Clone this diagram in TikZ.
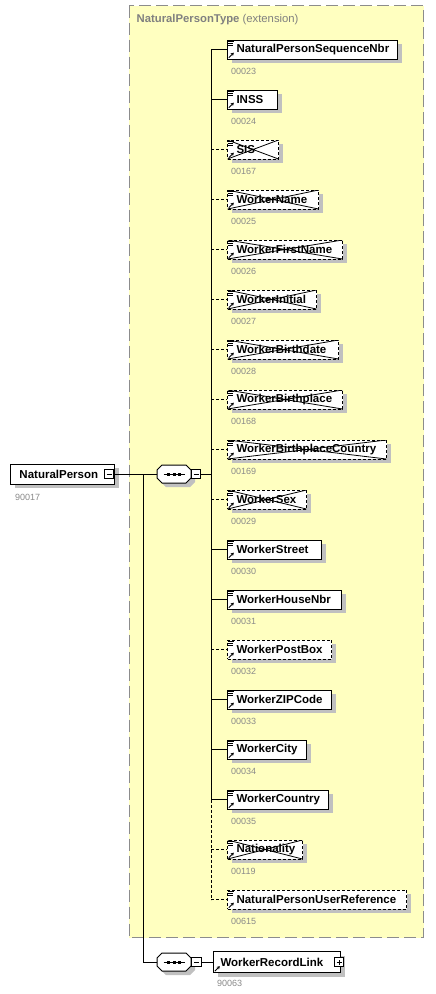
\documentclass[tikz,border=0pt]{standalone}
\usepackage{fontspec}
\setmainfont{Liberation Sans}
\usetikzlibrary{arrows.meta}
\definecolor{bgyellow}{HTML}{FFFFC0}
\definecolor{framegray}{HTML}{8C8C8C}
\definecolor{lblgray}{HTML}{8A8A8A}
\definecolor{titlegray}{HTML}{808080}
\definecolor{shgray}{HTML}{C0C0C0}
\newcommand{\elem}[7]{% id, row, right x, name, label, box style, connector style
  \pgfmathsetmacro{\yc}{49.5+50*#2}
  \pgfmathsetmacro{\ew}{#3-227}
  \node[#6, text width=\ew pt, anchor=west] (#1) at (227,\yc) {\hspace*{9pt}#4};
  \draw[icon] ([shift={(1pt,-1.6pt)}]#1.north west) -- ++(6pt,0pt);
  \draw[icon] ([shift={(1pt,-3.6pt)}]#1.north west) -- ++(4.5pt,0pt);
  \draw[icon] ([shift={(1pt,-5.6pt)}]#1.north west) -- ++(4.5pt,0pt);
  \draw[arr] ([shift={(1.8pt,1.8pt)}]#1.south west) -- ++(5pt,5pt);
  \node[lbl] (#1l) at (231,\yc+22) {#5};
  \coordinate (t#1) at (211,\yc);
  \draw[#7] (t#1) -- (#1.west);
}
\newcommand{\octa}[2]{%
  \filldraw[compo] (#1-17,#2-4) -- (#1-12,#2-9) -- (#1+12,#2-9) -- (#1+17,#2-4) -- (#1+17,#2+4) -- (#1+12,#2+9) -- (#1-12,#2+9) -- (#1-17,#2+4) -- cycle;
  \draw[line width=1pt] (#1-10.5,#2) -- (#1+10.5,#2);
  \fill (#1-7,#2-1.5) rectangle ++(3,3);
  \fill (#1-1.5,#2-1.5) rectangle ++(3,3);
  \fill (#1+4,#2-1.5) rectangle ++(3,3);
}
\begin{document}
\begin{tikzpicture}[x=1pt,y=-1pt,
  shadowed/.style={preaction={fill=shgray, draw=none, transform canvas={shift={(4pt,-4pt)}}}},
  ebox/.style={draw=black, line width=1pt, fill=white, inner xsep=0pt, inner ysep=0pt,
    minimum height=19pt, align=left, font=\bfseries\fontsize{11.5}{13}\selectfont, shadowed},
  optbox/.style={ebox, dash pattern=on 3pt off 2pt},
  crossbox/.style={optbox, path picture={\draw[solid, line width=0.8pt]
    (path picture bounding box.north west) -- (path picture bounding box.south east)
    (path picture bounding box.south west) -- (path picture bounding box.north east);}},
  lbl/.style={inner sep=0pt, anchor=west, text=lblgray, font=\fontsize{9}{10}\selectfont},
  conn/.style={line width=1pt},
  optconn/.style={line width=1pt, dash pattern=on 3pt off 2pt},
  icon/.style={line width=0.8pt},
  arr/.style={line width=1pt, -{Stealth[length=3pt,width=3.5pt]}},
  compo/.style={draw=black, fill=white, line width=1pt, shadowed},
  pmbox/.style={draw=black, fill=white, line width=0.8pt, minimum size=9.5pt, inner sep=0pt},
]
\useasboundingbox (0,0) rectangle (436,994);
\fill[white] (0,0) rectangle (436,994);

% type frame
\draw[framegray, fill=bgyellow, line width=1pt, dash pattern=on 12pt off 5pt] (129,5.5) rectangle (423.5,937.5);
\node[anchor=west, inner sep=0pt, text=titlegray, font=\fontsize{11.3}{13}\selectfont] (title) at (136.5,20) {\textbf{NaturalPersonType} (extension)};

% root element
\node[ebox, text width=104pt, anchor=west, minimum height=20pt] (np) at (10,474) {\hspace*{9pt}NaturalPerson};
\node[pmbox] (npm) at (109,474) {};
\draw[line width=0.8pt] ([xshift=-2.5pt]npm.center) -- ([xshift=2.5pt]npm.center);
\node[lbl] (npl) at (15,497) {90017};

% first sequence
\octa{174}{474}
\node[inner sep=0pt, minimum width=34pt, minimum height=18pt] (seq1) at (174,474) {};
\node[pmbox] (seq1m) at (196,474) {};
\draw[line width=0.8pt] ([xshift=-2.5pt]seq1m.center) -- ([xshift=2.5pt]seq1m.center);
\draw[conn] (npm.east) -- (seq1.west);
\coordinate (jn) at (211,474);
\draw[conn] (seq1m.east) -- (jn);

% children
\elem{e0}{0}{397}{NaturalPersonSequenceNbr}{00023}{ebox}{conn}
\elem{e1}{1}{277}{INSS}{00024}{ebox}{conn}
\elem{e2}{2}{278}{SIS}{00167}{crossbox}{optconn}
\elem{e3}{3}{318}{WorkerName}{00025}{crossbox}{optconn}
\elem{e4}{4}{342}{WorkerFirstName}{00026}{crossbox}{optconn}
\elem{e5}{5}{316}{WorkerInitial}{00027}{crossbox}{optconn}
\elem{e6}{6}{338}{WorkerBirthdate}{00028}{crossbox}{optconn}
\elem{e7}{7}{342}{WorkerBirthplace}{00168}{crossbox}{optconn}
\elem{e8}{8}{386}{WorkerBirthplaceCountry}{00169}{crossbox}{optconn}
\elem{e9}{9}{306}{WorkerSex}{00029}{crossbox}{optconn}
\elem{e10}{10}{321}{WorkerStreet}{00030}{ebox}{conn}
\elem{e11}{11}{341}{WorkerHouseNbr}{00031}{ebox}{conn}
\elem{e12}{12}{331}{WorkerPostBox}{00032}{optbox}{optconn}
\elem{e13}{13}{331}{WorkerZIPCode}{00033}{ebox}{conn}
\elem{e14}{14}{306}{WorkerCity}{00034}{ebox}{conn}
\elem{e15}{15}{328}{WorkerCountry}{00035}{ebox}{conn}
\elem{e16}{16}{302}{Nationality}{00119}{crossbox}{optconn}
\elem{e17}{17}{406}{NaturalPersonUserReference}{00615}{optbox}{optconn}

% trunk
\draw[conn] (te0) -- (te15);
\draw[optconn] (te15) -- (te17);

% second sequence
\coordinate (b1) at (143,474);
\coordinate (b2) at (143,962);
\octa{174}{962}
\node[inner sep=0pt, minimum width=34pt, minimum height=18pt] (seq2) at (174,962) {};
\node[pmbox] (seq2m) at (196.5,962) {};
\draw[line width=0.8pt] ([xshift=-2.5pt]seq2m.center) -- ([xshift=2.5pt]seq2m.center);
\draw[conn] (b1) -- (b2) -- (seq2.west);

\node[ebox, text width=127pt, anchor=west, minimum height=21pt] (wrl) at (213,962) {\hspace*{7pt}WorkerRecordLink};
\draw[arr] ([shift={(1.8pt,1.8pt)}]wrl.south west) -- ++(5pt,5pt);
\node[pmbox] (wrlp) at (339,962) {};
\draw[line width=0.8pt] ([xshift=-2.5pt]wrlp.center) -- ([xshift=2.5pt]wrlp.center);
\draw[line width=0.8pt] ([yshift=-2.5pt]wrlp.center) -- ([yshift=2.5pt]wrlp.center);
\draw[conn] (seq2m.east) -- (wrl.west);
\node[lbl] (wrll) at (217,983) {90063};
\end{tikzpicture}
\end{document}
